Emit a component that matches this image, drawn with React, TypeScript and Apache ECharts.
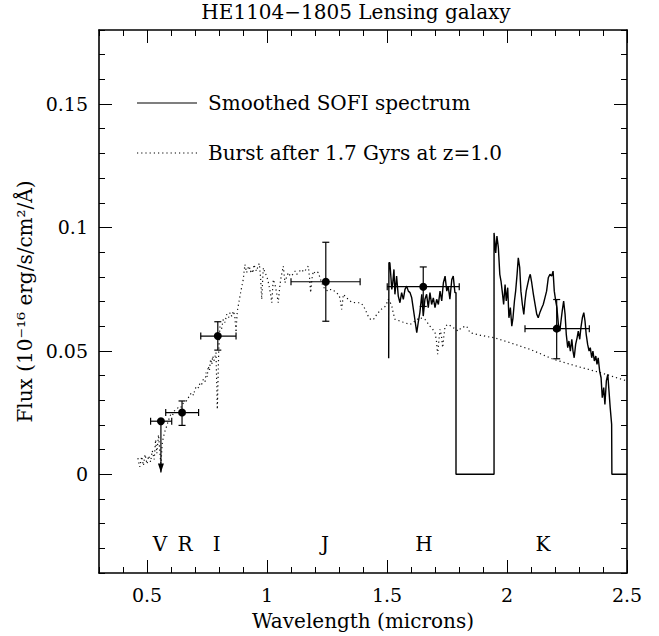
import React, { useEffect, useRef } from "react";
import * as echarts from "echarts";

// ---- Data ----
// Observed photometric points (wavelength in microns, flux in 1e-16 erg/s/cm2/A)
const obsWave = [0.558, 0.646, 0.795, 1.245, 1.651, 2.207];
const obsFlux = [0.0215, 0.025, 0.056, 0.078, 0.076, 0.059];
const obsWaveLo = [0.515, 0.578, 0.724, 1.1, 1.501, 2.075];
const obsWaveHi = [0.603, 0.715, 0.871, 1.388, 1.801, 2.343];
const obsFluxLo = [0.0007, 0.0198, 0.0503, 0.062, 0.068, 0.0468];
const obsFluxHi = [0.0215, 0.0297, 0.0618, 0.094, 0.084, 0.0708];
const obsUpperLimit = [1, 0, 0, 0, 0, 0];

// Band names
const bandNames = ["V", "R", "I", "J", "H", "K"];
const bandWave = [0.554, 0.658, 0.79, 1.242, 1.654, 2.15];
const bandLabelFlux = -0.0283;

// Smoothed SOFI spectrum [wavelength, flux]
const sofiSpectrum = [
  [1.507, 0.047], [1.508, 0.0857], [1.512, 0.0857], [1.52, 0.0749], [1.524, 0.0776], [1.529, 0.083],
  [1.533, 0.0729], [1.54, 0.0803], [1.547, 0.0722], [1.554, 0.0695], [1.561, 0.0736], [1.568, 0.0709],
  [1.575, 0.0749], [1.582, 0.0762], [1.589, 0.0742], [1.596, 0.0736], [1.603, 0.0715], [1.61, 0.0668],
  [1.617, 0.0621], [1.624, 0.0574], [1.63, 0.0614], [1.637, 0.0655], [1.645, 0.0729], [1.651, 0.0641],
  [1.658, 0.0709], [1.665, 0.0729], [1.672, 0.0675], [1.679, 0.0736], [1.686, 0.0688], [1.693, 0.0715],
  [1.7, 0.0675], [1.707, 0.0709], [1.714, 0.0688], [1.721, 0.0742], [1.728, 0.0702], [1.735, 0.0776],
  [1.742, 0.0803], [1.749, 0.0742], [1.755, 0.0762], [1.762, 0.0709], [1.77, 0.0789], [1.776, 0.0803],
  [1.783, 0.0736], [1.7875, 0.0736], [1.7875, 0], [1.946, 0], [1.946, 0.0978], [1.953, 0.0897],
  [1.958, 0.0965], [1.964, 0.0918], [1.97, 0.081], [1.975, 0.0783], [1.98, 0.0742], [1.986, 0.0688],
  [1.992, 0.0769], [1.997, 0.0702], [2.003, 0.0756], [2.008, 0.0634], [2.014, 0.0675], [2.02, 0.06],
  [2.025, 0.0634], [2.031, 0.0702], [2.036, 0.0742], [2.042, 0.081], [2.047, 0.0877], [2.053, 0.0837],
  [2.058, 0.0742], [2.064, 0.0688], [2.07, 0.0648], [2.075, 0.0702], [2.08, 0.0742], [2.086, 0.0769],
  [2.092, 0.0796], [2.097, 0.081], [2.103, 0.0776], [2.11, 0.0729], [2.117, 0.0688], [2.124, 0.0648],
  [2.13, 0.0634], [2.137, 0.0655], [2.145, 0.0675], [2.151, 0.0688], [2.158, 0.0715], [2.165, 0.0742],
  [2.172, 0.0796], [2.179, 0.081], [2.186, 0.0803], [2.192, 0.0823], [2.197, 0.0742], [2.203, 0.0702],
  [2.208, 0.0675], [2.214, 0.0607], [2.22, 0.058], [2.225, 0.0621], [2.23, 0.0661], [2.236, 0.0702],
  [2.242, 0.0648], [2.247, 0.0567], [2.253, 0.0513], [2.258, 0.054], [2.264, 0.0499], [2.27, 0.0547],
  [2.275, 0.0499], [2.28, 0.0472], [2.286, 0.0526], [2.292, 0.0553], [2.297, 0.058], [2.303, 0.0547],
  [2.308, 0.0594], [2.314, 0.0634], [2.32, 0.0655], [2.325, 0.0621], [2.33, 0.0567], [2.336, 0.0526],
  [2.342, 0.0499], [2.347, 0.0513], [2.353, 0.0472], [2.358, 0.0499], [2.364, 0.0459], [2.37, 0.0479],
  [2.375, 0.0445], [2.38, 0.0472], [2.386, 0.0418], [2.392, 0.0391], [2.397, 0.031], [2.403, 0.0351],
  [2.408, 0.0283], [2.414, 0.0378], [2.42, 0.0405], [2.425, 0.0337], [2.43, 0.027], [2.436, 0.0202],
  [2.437, 0], [2.5, 0],
];

// Burst model after 1.7 Gyrs at z=1.0 [wavelength, flux]
const burstModel = [
  [0.462, 0.0065], [0.47, 0.003], [0.478, 0.0072], [0.485, 0.0035], [0.492, 0.008], [0.5, 0.0042],
  [0.507, 0.0075], [0.515, 0.005], [0.522, 0.0095], [0.53, 0.006], [0.536, 0.014], [0.541, 0.0085],
  [0.548, 0.016], [0.553, 0.01], [0.558, 0.0035], [0.563, 0.012], [0.568, 0.015], [0.575, 0.0175],
  [0.582, 0.0195], [0.59, 0.022], [0.598, 0.024], [0.605, 0.0235], [0.612, 0.0255], [0.62, 0.0262],
  [0.63, 0.027], [0.64, 0.0268], [0.648, 0.0285], [0.658, 0.0292], [0.668, 0.03], [0.676, 0.0318],
  [0.686, 0.0331], [0.694, 0.032], [0.7, 0.0345], [0.707, 0.0357], [0.715, 0.035], [0.721, 0.0371],
  [0.728, 0.0365], [0.735, 0.0385], [0.742, 0.0375], [0.746, 0.0412], [0.751, 0.0395], [0.755, 0.0438],
  [0.76, 0.042], [0.765, 0.0466], [0.77, 0.0445], [0.774, 0.0479], [0.779, 0.046], [0.7875, 0.0493],
  [0.793, 0.0263], [0.799, 0.0506], [0.804, 0.06], [0.811, 0.059], [0.818, 0.0628], [0.825, 0.0615],
  [0.832, 0.0648], [0.84, 0.0635], [0.846, 0.0655], [0.853, 0.064], [0.86, 0.0661], [0.866, 0.064],
  [0.871, 0.0575], [0.876, 0.066], [0.88, 0.0681], [0.89, 0.0736], [0.901, 0.0789], [0.908, 0.085],
  [0.915, 0.0817], [0.921, 0.0835], [0.926, 0.0843], [0.931, 0.082], [0.936, 0.083], [0.941, 0.0815],
  [0.946, 0.085], [0.952, 0.083], [0.957, 0.0823], [0.963, 0.0845], [0.968, 0.0854], [0.973, 0.08],
  [0.978, 0.0709], [0.982, 0.079], [0.985, 0.0837], [0.992, 0.0815], [0.999, 0.0803], [1.005, 0.078],
  [1.01, 0.0756], [1.015, 0.073], [1.02, 0.0695], [1.026, 0.0789], [1.033, 0.077], [1.04, 0.0736],
  [1.047, 0.0695], [1.052, 0.075], [1.057, 0.0789], [1.063, 0.082], [1.068, 0.0843], [1.075, 0.0776],
  [1.082, 0.08], [1.089, 0.0817], [1.096, 0.0805], [1.103, 0.0803], [1.11, 0.0815], [1.117, 0.0823],
  [1.124, 0.081], [1.13, 0.0817], [1.138, 0.0825], [1.145, 0.083], [1.152, 0.082], [1.158, 0.0823],
  [1.165, 0.0835], [1.172, 0.0843], [1.177, 0.08], [1.182, 0.0736], [1.187, 0.079], [1.193, 0.0823],
  [1.2, 0.0815], [1.207, 0.082], [1.214, 0.0817], [1.221, 0.0795], [1.228, 0.0776], [1.235, 0.076],
  [1.242, 0.0749], [1.249, 0.0745], [1.255, 0.0742], [1.262, 0.0748], [1.27, 0.0749], [1.276, 0.0744],
  [1.283, 0.0742], [1.29, 0.0735], [1.297, 0.0729], [1.304, 0.0715], [1.311, 0.0668], [1.315, 0.07],
  [1.318, 0.0729], [1.325, 0.0722], [1.332, 0.0715], [1.339, 0.0708], [1.346, 0.0702], [1.353, 0.0698],
  [1.36, 0.0695], [1.368, 0.0696], [1.376, 0.0695], [1.388, 0.0695], [1.4, 0.0685], [1.408, 0.067],
  [1.415, 0.0655], [1.422, 0.064], [1.429, 0.063], [1.436, 0.0625], [1.443, 0.0628], [1.45, 0.0634],
  [1.457, 0.0648], [1.464, 0.0655], [1.471, 0.0665], [1.478, 0.067], [1.485, 0.0675], [1.492, 0.068],
  [1.498, 0.069], [1.505, 0.0709], [1.512, 0.07], [1.52, 0.0681], [1.527, 0.065], [1.533, 0.0628],
  [1.544, 0.0624], [1.554, 0.0621], [1.565, 0.0617], [1.575, 0.0614], [1.586, 0.061], [1.596, 0.0607],
  [1.606, 0.0612], [1.617, 0.0621], [1.627, 0.0628], [1.637, 0.0634], [1.648, 0.0631], [1.658, 0.0628],
  [1.668, 0.0615], [1.679, 0.06], [1.69, 0.0588], [1.7, 0.0574], [1.706, 0.054], [1.711, 0.0486],
  [1.716, 0.054], [1.721, 0.0587], [1.727, 0.056], [1.732, 0.0513], [1.737, 0.056], [1.742, 0.06],
  [1.749, 0.0604], [1.756, 0.0607], [1.766, 0.06], [1.776, 0.0594], [1.787, 0.0587], [1.797, 0.058],
  [1.804, 0.0588], [1.811, 0.0594], [1.822, 0.0598], [1.832, 0.06], [1.84, 0.0585], [1.846, 0.0574],
  [1.86, 0.057], [1.874, 0.0567], [1.89, 0.0563], [1.908, 0.056], [1.927, 0.0556], [1.947, 0.0553],
  [2.013, 0.0533], [2.096, 0.0506], [2.193, 0.0466], [2.29, 0.0438], [2.388, 0.0412], [2.5, 0.0378],
];

const titleText = "HE1104\u22121805 Lensing galaxy";
const legendSolid = "Smoothed SOFI spectrum";
const legendDotted = "Burst after 1.7 Gyrs at z=1.0";
const xName = "Wavelength (microns)";
const yName = "Flux (10\u207B\u00B9\u2076 erg/s/cm\u00B2/\u00C5)";
const xMajorTicks = [0.5, 1, 1.5, 2, 2.5];
const yMajorTicks = [0, 0.05, 0.1, 0.15];

const FONT = '"DejaVu Serif", "Liberation Serif", serif';
const BLACK = "#000";

function App() {
  const ref = useRef<HTMLDivElement>(null);

  useEffect(() => {
    if (!ref.current) return;
    const chart = echarts.init(ref.current, null, { renderer: "svg" });

    const obsData = obsWave.map((w, i) => [
      w, obsFlux[i], obsWaveLo[i], obsWaveHi[i], obsFluxLo[i], obsFluxHi[i], obsUpperLimit[i],
    ]);
    const bandData = bandNames.map((n, i) => ({ value: [bandWave[i], bandLabelFlux], name: n }));

    const isMult = (v: number, step: number) => Math.abs(v / step - Math.round(v / step)) < 1e-6;
    const fmt = (v: number) => String(Math.round(v * 100) / 100);

    const minorX = (pos: string, withLabel: boolean) => ({
      type: "value", min: 0.3, max: 2.5, interval: 0.1, position: pos,
      axisLine: { show: true, onZero: false, lineStyle: { color: BLACK, width: 1.6 } },
      axisTick: { show: true, inside: true, length: 6, lineStyle: { color: BLACK, width: 1 } },
      axisLabel: withLabel
        ? { show: true, margin: 12, color: BLACK, fontFamily: FONT, fontSize: 19,
            formatter: (v: number) => (isMult(v, 0.5) ? fmt(v) : "") }
        : { show: false },
      splitLine: { show: false },
      ...(withLabel ? { name: xName, nameLocation: "middle", nameGap: 38,
        nameTextStyle: { color: BLACK, fontFamily: FONT, fontSize: 20 } } : {}),
    });
    const majorX = (pos: string) => ({
      type: "value", min: 0.3, max: 2.5, position: pos,
      axisLine: { show: false, onZero: false },
      axisTick: { show: true, inside: true, length: 13, customValues: xMajorTicks, lineStyle: { color: BLACK, width: 1 } },
      axisLabel: { show: false },
      splitLine: { show: false },
    });
    const minorY = (pos: string, withLabel: boolean) => ({
      type: "value", min: -0.04, max: 0.18, interval: 0.01, position: pos,
      axisLine: { show: true, onZero: false, lineStyle: { color: BLACK, width: 1.6 } },
      axisTick: { show: true, inside: true, length: 6, lineStyle: { color: BLACK, width: 1 } },
      axisLabel: withLabel
        ? { show: true, margin: 11, color: BLACK, fontFamily: FONT, fontSize: 19,
            formatter: (v: number) => (v > -1e-9 && isMult(v, 0.05) ? fmt(v) : "") }
        : { show: false },
      splitLine: { show: false },
      ...(withLabel ? { name: yName, nameLocation: "middle", nameGap: 62, nameRotate: 90,
        nameTextStyle: { color: BLACK, fontFamily: FONT, fontSize: 20 } } : {}),
    });
    const majorY = (pos: string) => ({
      type: "value", min: -0.04, max: 0.18, position: pos,
      axisLine: { show: false, onZero: false },
      axisTick: { show: true, inside: true, length: 13, customValues: yMajorTicks, lineStyle: { color: BLACK, width: 1 } },
      axisLabel: { show: false },
      splitLine: { show: false },
    });

    const option: any = {
      animation: false,
      backgroundColor: "#fff",
      title: {
        text: titleText, left: 356, top: 2, textAlign: "center", padding: 0,
        textStyle: { color: BLACK, fontFamily: FONT, fontSize: 20, fontWeight: "normal" },
      },
      grid: { left: 99, right: 32, top: 30, bottom: 62 },
      xAxis: [minorX("bottom", true), majorX("bottom"), minorX("top", false), majorX("top")],
      yAxis: [minorY("left", true), majorY("left"), minorY("right", false), majorY("right")],
      graphic: [
        { type: "line", shape: { x1: 137, y1: 103, x2: 197, y2: 103 }, style: { stroke: BLACK, lineWidth: 1.2 } },
        { type: "text", x: 208, y: 103, style: { text: legendSolid, fill: BLACK, font: `20px ${FONT}`, textVerticalAlign: "middle" } },
        { type: "line", shape: { x1: 137, y1: 153, x2: 197, y2: 153 }, style: { stroke: BLACK, lineWidth: 1.2, lineDash: [1.2, 3] } },
        { type: "text", x: 208, y: 153, style: { text: legendDotted, fill: BLACK, font: `20px ${FONT}`, textVerticalAlign: "middle" } },
      ],
      series: [
        {
          type: "line", name: legendDotted, data: burstModel, showSymbol: false, symbol: "none",
          lineStyle: { color: "#111", width: 1.2, type: [1.2, 3] }, z: 2,
        },
        {
          type: "line", name: legendSolid, data: sofiSpectrum, showSymbol: false, symbol: "none",
          lineStyle: { color: BLACK, width: 1.4 }, z: 3,
        },
        {
          type: "custom", name: "photometry", data: obsData, z: 4, clip: false,
          encode: { x: 0, y: 1 },
          renderItem: (params: any, api: any) => {
            const x = api.value(0), y = api.value(1);
            const c = api.coord([x, y]);
            const l = api.coord([api.value(2), y]);
            const r = api.coord([api.value(3), y]);
            const lo = api.coord([x, api.value(4)]);
            const hi = api.coord([x, api.value(5)]);
            const lim = api.value(6);
            const st = { stroke: BLACK, lineWidth: 1.2 };
            const ch: any[] = [
              { type: "line", shape: { x1: l[0], y1: c[1], x2: r[0], y2: c[1] }, style: st },
              { type: "line", shape: { x1: l[0], y1: c[1] - 3.5, x2: l[0], y2: c[1] + 3.5 }, style: st },
              { type: "line", shape: { x1: r[0], y1: c[1] - 3.5, x2: r[0], y2: c[1] + 3.5 }, style: st },
              { type: "line", shape: { x1: c[0], y1: hi[1], x2: c[0], y2: lo[1] }, style: st },
            ];
            if (lim) {
              ch.push({ type: "polygon", shape: { points: [[c[0] - 3, lo[1] - 9], [c[0] + 3, lo[1] - 9], [c[0], lo[1]]] }, style: { fill: BLACK } });
            } else {
              ch.push({ type: "line", shape: { x1: c[0] - 3.5, y1: hi[1], x2: c[0] + 3.5, y2: hi[1] }, style: st });
              ch.push({ type: "line", shape: { x1: c[0] - 3.5, y1: lo[1], x2: c[0] + 3.5, y2: lo[1] }, style: st });
            }
            ch.push({ type: "circle", shape: { cx: c[0], cy: c[1], r: 4 }, style: { fill: BLACK } });
            return { type: "group", children: ch };
          },
        },
        {
          type: "custom", name: "bands", data: bandData, z: 5, clip: false, silent: true,
          encode: { x: 0, y: 1 },
          renderItem: (params: any, api: any) => {
            const p = api.coord([api.value(0), api.value(1)]);
            return {
              type: "text", x: p[0], y: p[1],
              style: {
                text: bandNames[params.dataIndex], fill: BLACK, font: `20px ${FONT}`,
                textAlign: "center", textVerticalAlign: "middle",
              },
            };
          },
        },
      ],
    };

    chart.setOption(option);
    return () => chart.dispose();
  }, []);

  return <div ref={ref} style={{ position: "absolute", left: 0, top: 0, width: 659, height: 636 }} />;
}

export default App;
